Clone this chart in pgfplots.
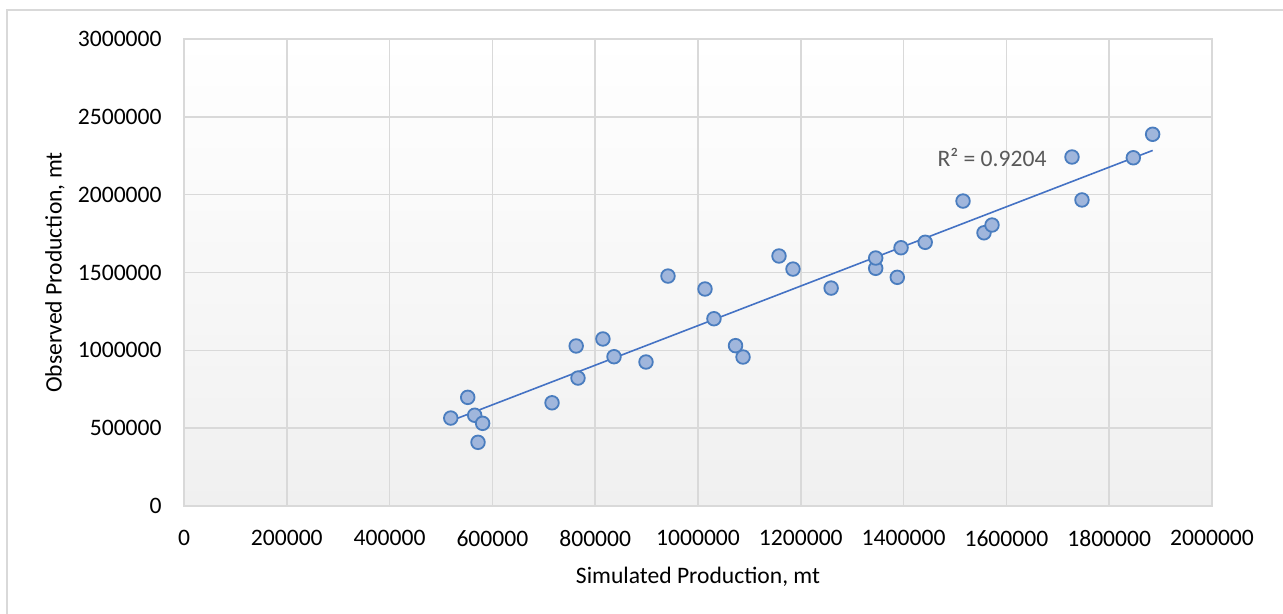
\documentclass[border=0pt]{standalone}
\usepackage{pgfplots}
\usepackage{pgfplotstable}
\pgfplotsset{compat=1.18}
\usepackage{fontspec}
\setmainfont{Carlito}
\definecolor{gridc}{RGB}{217,217,217}
\definecolor{mfill}{RGB}{160,182,220}
\definecolor{mdraw}{RGB}{74,125,191}
\definecolor{tline}{RGB}{68,114,196}
\definecolor{lbl}{RGB}{89,89,89}
\definecolor{bot}{RGB}{240,240,240}
\pgfplotstableread{
x y
519000 565000
552000 698000
565500 583000
581000 531000
572000 409000
716000 663000
763000 1028000
766500 822000
815000 1073000
836600 959000
898800 925000
941600 1477000
1013600 1394000
1031000 1203000
1073000 1030000
1087600 957000
1157600 1606000
1184800 1522000
1259000 1400000
1345700 1527000
1345700 1593000
1387700 1469000
1395000 1659000
1442000 1694000
1515600 1959000
1556400 1755000
1572000 1805000
1727600 2242000
1747000 1966000
1846900 2237000
1884500 2388000
}\datatable
\begin{document}
\begin{tikzpicture}
\useasboundingbox (-92pt,-54pt) rectangle (549.5pt,253pt);
\draw[gridc, line width=0.6pt] (-88.5pt,-60pt) -- (-88.5pt,248pt) -- (560pt,248pt);
\begin{axis}[
  at={(0,0)}, anchor=south west,
  scale only axis, width=514pt, height=233.5pt,
  xmin=0, xmax=2000000, ymin=0, ymax=3000000,
  xtick={0,200000,...,2000000},
  ytick={0,500000,...,3000000},
  scaled ticks=false,
  font=\fontsize{11.8}{13}\selectfont,
  tick label style={/pgf/number format/fixed, /pgf/number format/1000 sep={}, /pgf/number format/assume math mode=true, font=\fontsize{11.8}{13}\selectfont},
  yticklabel style={anchor=east, inner sep=0pt, xshift=-11pt},
  xticklabel style={anchor=north, inner sep=0pt, yshift=-12pt},
  major tick length=0pt,
  grid=major,
  major grid style={gridc, line width=0.75pt},
  axis line style={gridc, line width=0.75pt},
  axis background/.style={shade, top color=white, bottom color=bot},
  xlabel={Simulated Production, mt},
  ylabel={Observed Production, mt},
  xlabel style={at={(axis description cs:0.5,0)}, anchor=base, inner sep=0pt, yshift=-38.5pt},
  ylabel style={at={(axis description cs:-0.1255,0.5)}, anchor=center, inner sep=0pt},
  clip=false,
]
\addplot[only marks, mark=*, mark size=3.4pt, mark options={fill=mfill, draw=mdraw, line width=0.9pt}] table[x=x,y=y] {\datatable};
\addplot[tline, line width=0.8pt, no marks] table[x=x, y={create col/linear regression={y=y}}] {\datatable};
\node[lbl, anchor=center] at (axis cs:1572000,2242000) {R² = 0.9204};
\end{axis}
\end{tikzpicture}
\end{document}
